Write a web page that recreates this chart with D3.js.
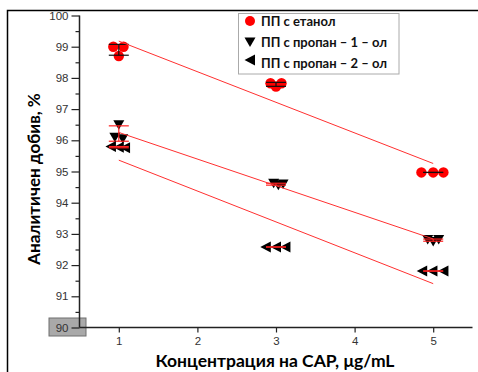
<!DOCTYPE html>
<html><head><meta charset="utf-8">
<script src="https://cdn.jsdelivr.net/npm/d3@7/dist/d3.min.js"></script>
<style>body{margin:0;background:#fff}svg{display:block}</style>
</head><body>
<svg id="c" width="478" height="372"></svg>
<script>
// ---- data ----
const xTicks = [1, 2, 3, 4, 5];
const yTicks = [90, 91, 92, 93, 94, 95, 96, 97, 98, 99, 100];
const concentrations = [1, 3, 5];
const seriesNames = ["ПП с етанол", "ПП с пропан – 1 – ол", "ПП с пропан – 2 – ол"];
const ethanolPts = [[0.93, 99.0], [1.06, 99.0], [1.0, 98.7],
                    [2.93, 97.83], [3.07, 97.83], [3.0, 97.72],
                    [4.85, 94.97], [5.0, 94.97], [5.13, 94.97]];
const propan1Pts = [[1.0, 96.5], [0.95, 96.1], [1.05, 96.05],
                    [2.97, 94.62], [3.03, 94.56], [3.09, 94.6],
                    [4.93, 92.82], [5.0, 92.76], [5.07, 92.82]];
const propan2Pts = [[0.9, 95.8], [1.0, 95.78], [1.08, 95.76],
                    [2.87, 92.58], [3.0, 92.58], [3.12, 92.58],
                    [4.86, 91.81], [4.99, 91.81], [5.13, 91.81]];
const xTitle = "Концентрация на CAP, μg/mL";
const yTitle = "Аналитичен добив, %";

// ---- layout ----
const svg = d3.select("#c");
const x = d3.scaleLinear().domain([0.5, 5.5]).range([79.5, 472.5]);
const y = d3.scaleLinear().domain([90, 100]).range([327.5, 15.5]);

// outer frame
svg.append("rect").attr("x", 7.5).attr("y", 10.5).attr("width", 490).attr("height", 400)
  .attr("fill", "none").attr("stroke", "#000").attr("stroke-width", 1.5);

// gray box behind 90
svg.append("rect").attr("x", 49).attr("y", 318).attr("width", 37).attr("height", 18)
  .attr("fill", "#a9a9a9").attr("stroke", "#6f6f6f").attr("stroke-width", 1);

// axes
const yAxis = d3.axisLeft(y).tickValues(yTicks).tickSize(8).tickPadding(3).tickFormat(d3.format("d"));
const yMinor = d3.axisLeft(y).tickValues(d3.range(90.5, 100, 1)).tickSize(4).tickFormat("");
const xAxis = d3.axisBottom(x).tickValues(xTicks).tickSize(5).tickPadding(4).tickFormat(d3.format("d"));

const gy = svg.append("g").attr("transform", "translate(79.5,0)").call(yAxis);
svg.append("g").attr("transform", "translate(79.5,0)").call(yMinor).select(".domain").remove();
const gx = svg.append("g").attr("transform", "translate(0,327.5)").call(xAxis);
[gy, gx].forEach(g => {
  g.select(".domain").attr("stroke", "#222").attr("stroke-width", 1.5);
  g.selectAll(".tick text").attr("font-family", "Liberation Sans, Arial, sans-serif")
   .attr("font-size", 11.5).attr("fill", "#333");
});
svg.selectAll(".tick line").attr("stroke", "#222").attr("stroke-width", 1.2);
gy.select(".domain").attr("d", "M0,15.5V327.5");
gx.select(".domain").attr("d", "M79.5,0H472.5");

// titles
svg.append("text").attr("x", 275).attr("y", 367).attr("text-anchor", "middle")
  .attr("font-family", "Lato, 'Open Sans', sans-serif").attr("font-weight", "bold")
  .attr("font-size", 17.5).text(xTitle);
svg.append("text").attr("transform", "translate(40,179) rotate(-90)").attr("text-anchor", "middle")
  .attr("font-family", "Lato, 'Open Sans', sans-serif").attr("font-weight", "bold")
  .attr("font-size", 17).text(yTitle);

// helpers
function fit(pts) {
  const mx = d3.mean(pts, d => d[0]), my = d3.mean(pts, d => d[1]);
  const b = d3.sum(pts, d => (d[0] - mx) * (d[1] - my)) / d3.sum(pts, d => (d[0] - mx) ** 2);
  return [[1, my + b * (1 - mx)], [5, my + b * (5 - mx)]];
}
function stats(pts) {
  return concentrations.map(c => {
    const v = pts.filter(d => Math.round(d[0]) === c).map(d => d[1]);
    return {c, m: d3.mean(v), s: d3.deviation(v) || 0};
  });
}
const line = d3.line().x(d => x(d[0])).y(d => y(d[1]));
const triDown = "M-5.5,-4.5L5.5,-4.5L0,5z";
const triLeft = "M-5.5,0L5,-5.5L5,5.5z";

function errBars(pts, color) {
  const g = svg.append("g").attr("stroke", color).attr("stroke-width", 1.2);
  stats(pts).forEach(s => {
    const cx = x(s.c), y0 = y(s.m - s.s), y1 = y(s.m + s.s);
    g.append("line").attr("x1", cx).attr("x2", cx).attr("y1", y0).attr("y2", y1);
    g.append("line").attr("x1", cx - 10).attr("x2", cx + 10).attr("y1", y0).attr("y2", y0);
    g.append("line").attr("x1", cx - 10).attr("x2", cx + 10).attr("y1", y1).attr("y2", y1);
  });
}

// ethanol
svg.append("g").selectAll("circle").data(ethanolPts).join("circle")
  .attr("cx", d => x(d[0])).attr("cy", d => y(d[1])).attr("r", 5.2).attr("fill", "#ff0000");
errBars(ethanolPts, "#111");
// propan-1
svg.append("g").selectAll("path").data(propan1Pts).join("path")
  .attr("transform", d => `translate(${x(d[0])},${y(d[1])})`).attr("d", triDown).attr("fill", "#000");
errBars(propan1Pts, "#ff2020");
// propan-2
svg.append("g").selectAll("path").data(propan2Pts).join("path")
  .attr("transform", d => `translate(${x(d[0])},${y(d[1])})`).attr("d", triLeft).attr("fill", "#000");
errBars(propan2Pts, "#ff2020");

// regression lines
[ethanolPts, propan1Pts, propan2Pts].forEach(p => {
  svg.append("path").attr("d", line(fit(p))).attr("fill", "none")
    .attr("stroke", "#ff3030").attr("stroke-width", 1);
});

// legend
const lg = svg.append("g");
lg.append("rect").attr("x", 238.5).attr("y", 13.5).attr("width", 160.5).attr("height", 60.5)
  .attr("fill", "#fff").attr("stroke", "#aaa").attr("stroke-width", 1);
const legY = [21, 42, 60];
const legTextY = [25.5, 46.5, 67.5];
const legShape = [null, triDown, triLeft];
seriesNames.forEach((n, i) => {
  if (i === 0) lg.append("circle").attr("cx", 250).attr("cy", legY[i]).attr("r", 5).attr("fill", "#ff0000");
  else lg.append("path").attr("transform", `translate(250,${legY[i]})`).attr("d", legShape[i]).attr("fill", "#000");
  lg.append("text").attr("x", 261).attr("y", legTextY[i]).attr("font-family", "Lato, 'Open Sans', sans-serif")
    .attr("font-weight", "bold").attr("font-size", 13).attr("fill", "#111").text(n);
});
</script>
</body></html>
